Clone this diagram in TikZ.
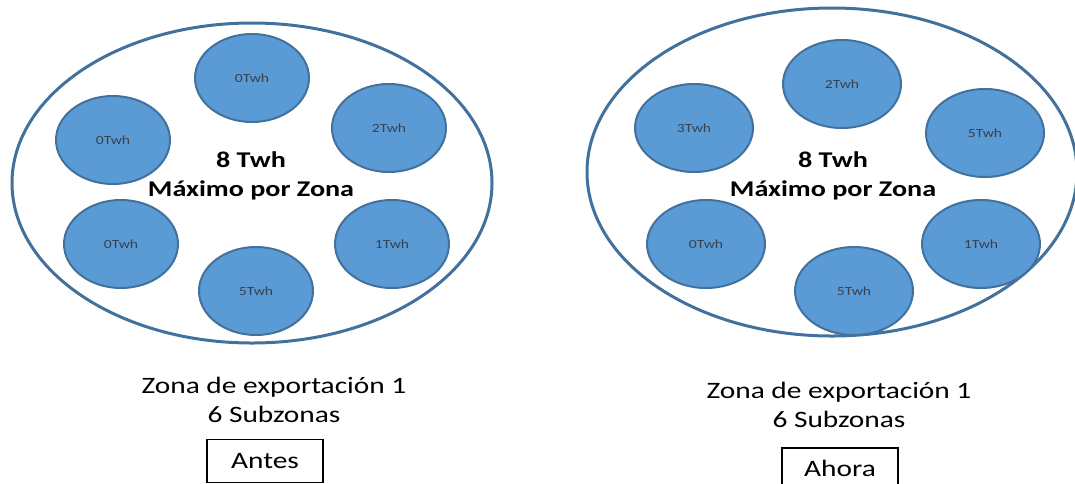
\documentclass[tikz,border=0pt]{standalone}
\usepackage{fontspec}
\setmainfont{Carlito}[FakeStretch=1.25]
\usetikzlibrary{shapes.geometric}
\definecolor{azul}{RGB}{91,155,213}
\definecolor{borde}{RGB}{65,113,156}
\definecolor{letra}{RGB}{55,65,80}
\newcommand{\maxzona}{\textbf{8 Twh}\\\textbf{Máximo por Zona}}

\begin{document}
\begin{tikzpicture}[x=1pt,y=-1pt]
                        \tikzstyle{zona}=[ellipse, draw=borde, line width=3pt, inner sep=0pt]
                        \tikzstyle{sub}=[ellipse, draw=borde, line width=2pt, fill=azul, inner sep=0pt,
                            minimum width=114pt, minimum height=88pt, text=letra, font=\fontsize{12.5}{14}\selectfont]
                        \tikzstyle{centro}=[align=center, font=\fontsize{22.5}{29}\selectfont]
                        \tikzstyle{pie}=[align=center, font=\fontsize{23.5}{29}\selectfont]
                        \tikzstyle{caja}=[draw, line width=1.2pt, minimum width=116pt, minimum height=43pt,
                            inner sep=0pt, font=\fontsize{23.5}{29}\selectfont]
                        \useasboundingbox (0,0) rectangle (1075,483);
                        % Antes
                        \node[zona, minimum width=480pt, minimum height=320pt] (zonaA) at (252,183) {};
                        \node[sub] (tA) at (252,78) {0Twh};
                        \node[sub] (lA) at (113,140) {0Twh};
                        \node[sub] (rA) at (389,128) {2Twh};
                        \node[sub] (llA) at (121,244) {0Twh};
                        \node[sub] (lrA) at (392,244) {1Twh};
                        \node[sub] (bA) at (256,291) {5Twh};
                        \node[centro] (maxA) at (251,176) {\maxzona};
                        \node[pie] (pieA) at (274,400) {Zona de exportación 1\\6 Subzonas};
                        \node[caja] (antes) at (265,461) {Antes};
                        % Ahora
                        \node[zona, minimum width=490pt, minimum height=328pt] (zonaB) at (832,172) {};
                        \node[sub, minimum width=118pt] (tB) at (842,84) {2Twh};
                        \node[sub, minimum width=118pt] (lB) at (694,128) {3Twh};
                        \node[sub, minimum width=118pt] (rB) at (985,133) {5Twh};
                        \node[sub, minimum width=118pt] (llB) at (706,244) {0Twh};
                        \node[sub, minimum width=118pt] (lrB) at (981,244) {1Twh};
                        \node[sub, minimum width=118pt] (bB) at (854,291) {5Twh};
                        \node[centro] (maxB) at (833,176) {\maxzona};
                        \node[pie] (pieB) at (839,405) {Zona de exportación 1\\6 Subzonas};
                        \node[caja, minimum height=40pt] (ahora) at (840,468) {Ahora};
\end{tikzpicture}
\end{document}
